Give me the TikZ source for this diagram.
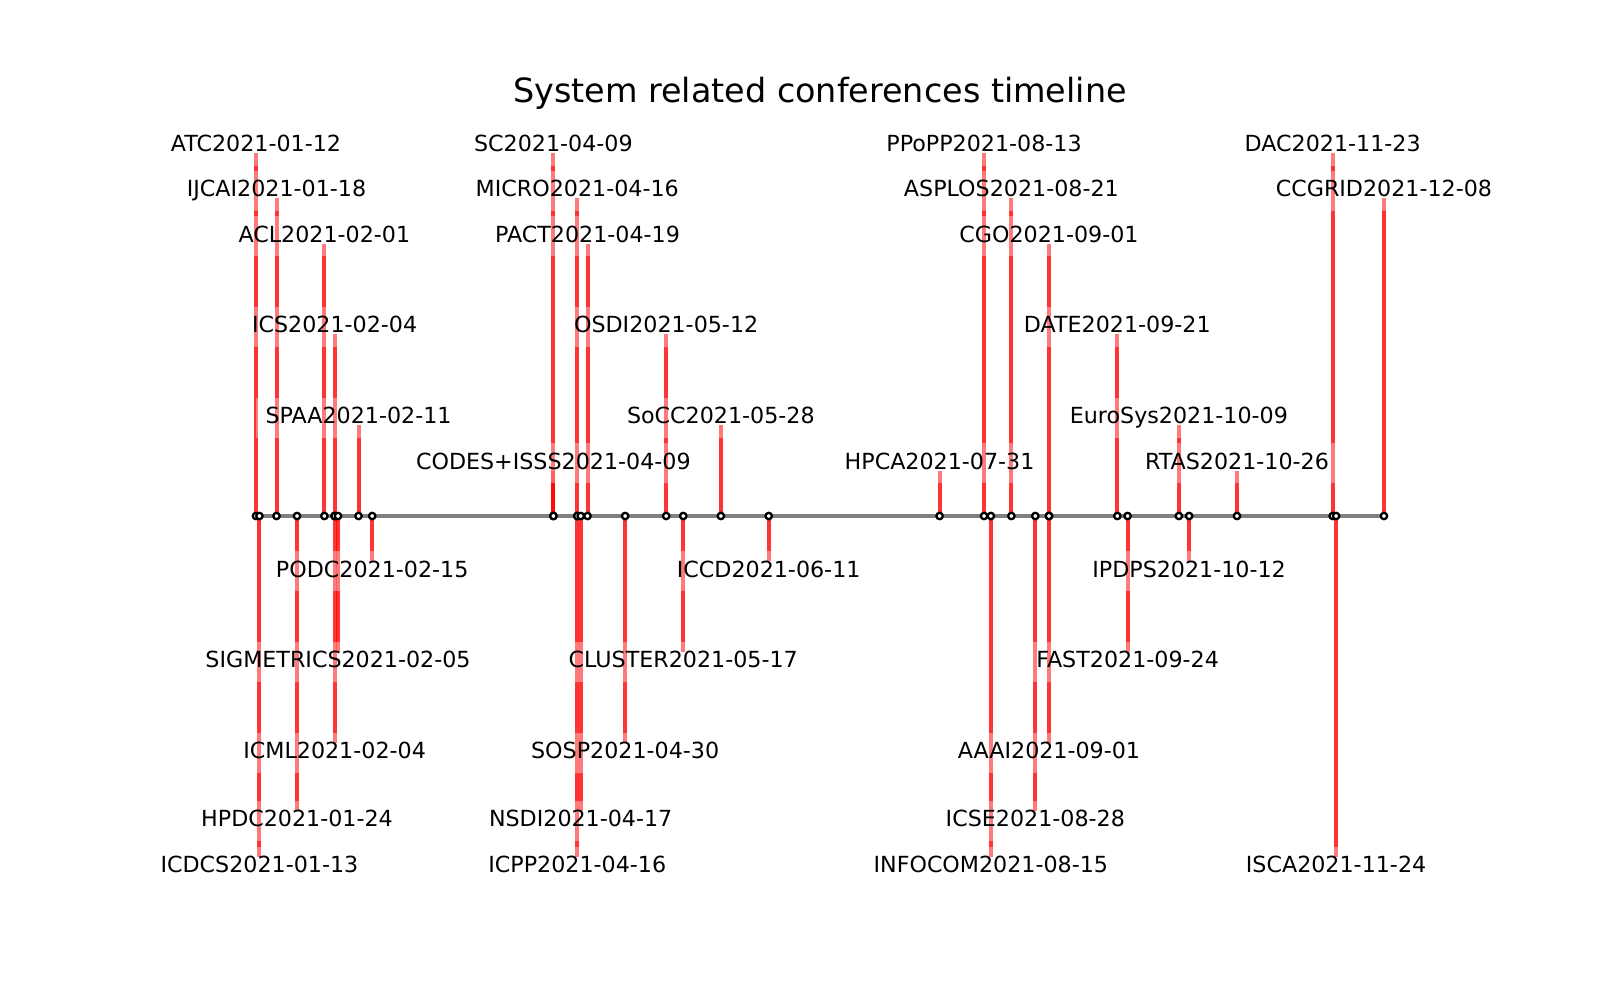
\documentclass[tikz,border=0pt]{standalone}
\usepackage{fontspec}
\setmainfont{DejaVu Sans}
\begin{document}
\begin{tikzpicture}[x=0.5pt,y=-0.5pt,
  stem/.style={draw=red, draw opacity=0.8, line width=2pt, line cap=butt},
  axisline/.style={draw=gray, line width=2pt},
  evmark/.style={draw=black, fill=white, line width=1.15pt},
  lab/.style={fill=white, fill opacity=0.35, text opacity=1, inner xsep=5pt, inner ysep=4.75pt,
    text height=8.1pt, text depth=2.4pt, font=\fontsize{11.1}{13}\selectfont},
  ttl/.style={font=\fontsize{16.7}{20}\selectfont, inner sep=0pt}]
\fill[white] (0,0) rectangle (1600,1000);
\useasboundingbox (0,0) rectangle (1600,1000);
\def\events{1/ATC2021-01-12/12/8, 2/ICDCS2021-01-13/13/-7.5, 3/IJCAI2021-01-18/18/7,
4/HPDC2021-01-24/24/-6.5, 5/ACL2021-02-01/32/6, 6/ICS2021-02-04/35/4, 7/ICML2021-02-04/35/-5,
8/SIGMETRICS2021-02-05/36/-3, 9/SPAA2021-02-11/42/2, 10/PODC2021-02-15/46/-1,
11/SC2021-04-09/99/8, 12/CODES+ISSS2021-04-09/99/1, 13/MICRO2021-04-16/106/7,
14/ICPP2021-04-16/106/-7.5, 15/NSDI2021-04-17/107/-6.5, 16/PACT2021-04-19/109/6,
17/SOSP2021-04-30/120/-5, 18/OSDI2021-05-12/132/4, 19/CLUSTER2021-05-17/137/-3,
20/SoCC2021-05-28/148/2, 21/ICCD2021-06-11/162/-1, 22/HPCA2021-07-31/212/1,
23/PPoPP2021-08-13/225/8, 24/INFOCOM2021-08-15/227/-7.5, 25/ASPLOS2021-08-21/233/7,
26/ICSE2021-08-28/240/-6.5, 27/CGO2021-09-01/244/6, 28/AAAI2021-09-01/244/-5,
29/DATE2021-09-21/264/4, 30/FAST2021-09-24/267/-3, 31/EuroSys2021-10-09/282/2,
32/IPDPS2021-10-12/285/-1, 33/RTAS2021-10-26/299/1, 34/DAC2021-11-23/327/8,
35/ISCA2021-11-24/328/-7.5, 36/CCGRID2021-12-08/342/7}
% coordinates and stems
\foreach \i/\lab/\d/\l in \events {
  \pgfmathsetmacro{\xx}{256+(\d-12)*3.418}
  \pgfmathsetmacro{\yy}{516-\l*45.4}
  \coordinate (m\i) at (\xx,516);
  \coordinate (e\i) at (\xx,\yy);
  \draw[stem] (m\i) -- (e\i);
}
% axis line
\draw[axisline] (m1) -- (m36);
% markers
\foreach \i in {1,...,36} {
  \draw[evmark] (m\i) circle[radius=1.6pt];
}
% labels
\foreach \i/\lab/\d/\l in \events {
  \ifdim\l pt>0pt
    \node[lab, anchor=base] (t\i) at ([yshift=0.75pt]e\i) {\lab};
  \else
    \node[lab, anchor=base] (t\i) at ([yshift=-7.85pt]e\i) {\lab};
  \fi
}
\node[ttl, anchor=base] (title) at (820,103) {System related conferences timeline};
\end{tikzpicture}
\end{document}
